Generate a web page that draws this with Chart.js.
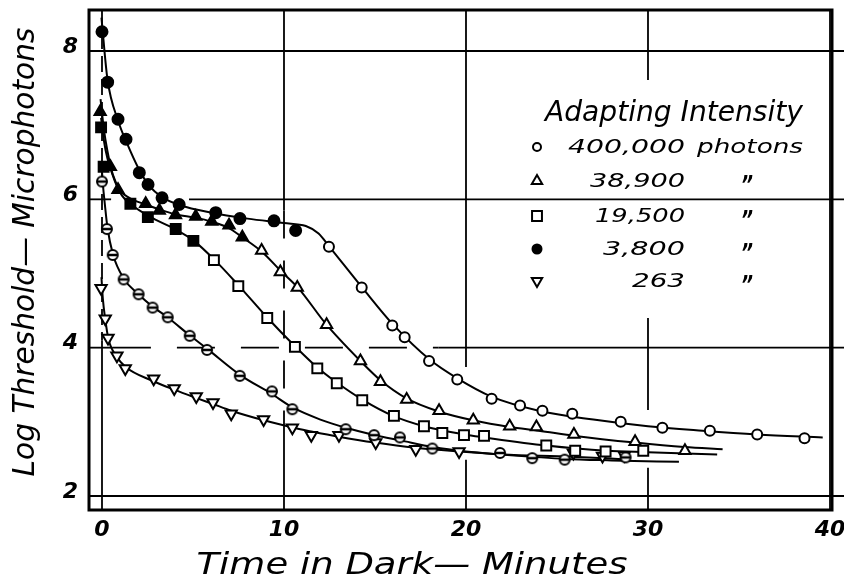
<!DOCTYPE html>
<html>
<head>
<meta charset="utf-8">
<script src="https://cdn.jsdelivr.net/npm/chart.js@4.4.1/dist/chart.umd.min.js"></script>
<style>
  html, body { margin: 0; padding: 0; background: #fff; }
  #wrap { width: 844px; height: 578px; }
</style>
</head>
<body>
<div id="wrap"><canvas id="myChart" width="844" height="578"></canvas></div>
<script>
// axis ticks
const xTicks = [0, 10, 20, 30, 40];
const yTicks = [2, 4, 6, 8];
const intensities = ["400,000", "38,900", "19,500", "3,800", "263"];

// measured points: minutes in dark / log threshold
// 400,000 photons
const tA = [0, 0.31, 0.88, 1.32, 2.05, 2.53, 3.3, 4.24, 6.25, 7.58, 9.45, 10.64, 12.47, 14.27, 15.95, 16.63, 17.97, 19.52, 21.41, 22.97, 24.2, 25.84, 28.5, 30.79, 33.4, 36.0, 38.6];
const vA = [8.26, 7.58, 7.08, 6.81, 6.36, 6.2, 6.02, 5.93, 5.82, 5.74, 5.71, 5.58, 5.36, 4.81, 4.3, 4.14, 3.82, 3.57, 3.31, 3.22, 3.15, 3.11, 3.0, 2.92, 2.88, 2.83, 2.78];
// 38,900
const tB = [-0.1, 0.46, 0.88, 2.4, 3.15, 4.04, 5.15, 6.03, 6.98, 7.71, 8.77, 9.8, 10.73, 12.34, 14.2, 15.3, 16.74, 18.52, 20.4, 22.4, 23.87, 25.93, 29.29, 32.03];
const vB = [7.18, 6.44, 6.13, 5.94, 5.85, 5.79, 5.77, 5.7, 5.65, 5.49, 5.31, 5.02, 4.81, 4.31, 3.82, 3.54, 3.3, 3.15, 3.02, 2.94, 2.93, 2.83, 2.73, 2.61];
// 19,500
const tC = [-0.05, 0.09, 1.56, 2.52, 4.05, 5.02, 6.15, 7.49, 9.08, 10.6, 11.83, 12.9, 14.3, 16.04, 17.69, 18.7, 19.89, 20.99, 24.41, 26.0, 27.67, 29.74];
const vC = [6.97, 6.44, 5.94, 5.76, 5.6, 5.44, 5.18, 4.83, 4.4, 4.01, 3.72, 3.52, 3.29, 3.08, 2.94, 2.85, 2.82, 2.81, 2.68, 2.61, 2.6, 2.61];
// 3,800
const tD = [0, 0.27, 0.59, 1.19, 2.01, 2.78, 3.61, 4.82, 5.77, 7.57, 9.34, 10.46, 13.39, 14.95, 16.37, 18.15, 21.87, 23.64, 25.42, 28.77];
const vD = [6.24, 5.6, 5.25, 4.92, 4.72, 4.54, 4.41, 4.16, 3.97, 3.62, 3.41, 3.17, 2.9, 2.82, 2.79, 2.64, 2.58, 2.51, 2.49, 2.52];
// 263
const tE = [-0.05, 0.18, 0.33, 0.82, 1.28, 2.84, 3.97, 5.18, 6.1, 7.1, 8.88, 10.46, 11.5, 13.02, 15.04, 17.24, 19.62, 25.9, 27.5, 28.7];
const vE = [4.8, 4.39, 4.13, 3.89, 3.72, 3.58, 3.45, 3.34, 3.26, 3.11, 3.03, 2.92, 2.82, 2.82, 2.72, 2.63, 2.6, 2.58, 2.54, 2.55];

// drawn curves
const ctA = [-0.03, 0.3, 0.9, 1.4, 2.0, 2.6, 3.3, 4.3, 6.0, 8.0, 10.0, 11.2, 11.9, 12.5, 14.3, 16.0, 18.0, 19.5, 21.4, 24, 27, 30, 33, 36, 39.6];
const cvA = [8.45, 7.62, 7.05, 6.74, 6.42, 6.18, 6.03, 5.92, 5.82, 5.74, 5.68, 5.64, 5.54, 5.36, 4.81, 4.31, 3.84, 3.59, 3.34, 3.15, 3.03, 2.94, 2.88, 2.83, 2.79];
const ctB = [-0.08, 0.1, 0.3, 0.6, 1.0, 1.5, 2.4, 3.2, 4.0, 5.2, 6.0, 7.0, 7.7, 8.8, 9.8, 10.8, 12.3, 14.2, 15.3, 16.7, 18.5, 20.4, 22.4, 24, 26, 29.3, 32, 34.1];
const cvB = [7.35, 6.95, 6.65, 6.33, 6.12, 6.02, 5.93, 5.86, 5.8, 5.75, 5.7, 5.61, 5.49, 5.29, 5.04, 4.8, 4.32, 3.82, 3.56, 3.32, 3.14, 3.02, 2.93, 2.88, 2.81, 2.72, 2.66, 2.63];
const ctC = [-0.05, 0.1, 0.3, 0.7, 1.1, 1.6, 2.6, 4.0, 5.0, 6.2, 7.5, 9.1, 10.6, 11.8, 12.9, 14.3, 16.0, 17.7, 19.9, 21.0, 24.4, 27.7, 30.0, 33.8];
const cvC = [7.1, 6.8, 6.55, 6.25, 6.05, 5.93, 5.77, 5.6, 5.45, 5.18, 4.84, 4.4, 4.02, 3.74, 3.53, 3.3, 3.08, 2.94, 2.83, 2.79, 2.68, 2.61, 2.59, 2.56];
const ctD = [-0.02, 0.05, 0.15, 0.3, 0.6, 1.2, 2.0, 2.8, 3.6, 4.8, 5.8, 7.6, 9.3, 10.5, 12.0, 13.4, 15.0, 16.4, 18.2, 20.0, 21.9, 23.6, 25.4, 28.0, 31.7];
const cvD = [6.45, 6.2, 5.95, 5.62, 5.26, 4.93, 4.72, 4.55, 4.41, 4.17, 3.98, 3.63, 3.38, 3.19, 3.03, 2.92, 2.82, 2.75, 2.66, 2.6, 2.56, 2.53, 2.5, 2.48, 2.46];
const ctE = [-0.03, 0.05, 0.18, 0.35, 0.8, 1.3, 2.8, 4.0, 5.2, 6.1, 7.1, 8.9, 10.5, 11.5, 13.0, 15.0, 17.2, 19.6, 22.0, 25.8, 29.0];
const cvE = [4.95, 4.65, 4.38, 4.12, 3.88, 3.74, 3.55, 3.43, 3.32, 3.24, 3.15, 3.02, 2.92, 2.87, 2.8, 2.72, 2.65, 2.6, 2.56, 2.53, 2.49];

// how many of the first marks are drawn solid
const solidA = 12, solidB = 10, solidC = 6;

const FONT = "'DejaVu Sans', sans-serif";

function pts(t, v) {
  return t.map(function (x, i) { return { x: x, y: v[i] }; });
}
function solid(n, len) {
  var a = [];
  for (var i = 0; i < len; i++) a.push(i < n ? "#000" : "#fff");
  return a;
}

// circle with a bar through it
function barCircle() {
  var c = document.createElement("canvas");
  c.width = 14; c.height = 14;
  var g = c.getContext("2d");
  g.strokeStyle = "#000"; g.fillStyle = "#fff"; g.lineWidth = 2;
  g.beginPath(); g.arc(7, 7, 5, 0, Math.PI * 2); g.fill(); g.stroke();
  g.lineWidth = 2.5;
  g.beginPath(); g.moveTo(2, 7); g.lineTo(12, 7); g.stroke();
  return c;
}
const barMark = barCircle();

function curve(t, v) {
  return {
    data: pts(t, v), showLine: true, borderColor: "#000", borderWidth: 2,
    pointRadius: 0, cubicInterpolationMode: "monotone", fill: false, order: 2
  };
}
function marks(t, v, style) {
  return Object.assign({
    data: pts(t, v), showLine: false, pointBorderColor: "#000",
    pointBorderWidth: 2, order: 1
  }, style);
}

// stretch text to a given width (the lettering is wide)
function wideText(ctx, text, x, y, w, font, align) {
  ctx.save();
  ctx.font = font;
  var k = w / ctx.measureText(text).width;
  ctx.translate(x, y);
  ctx.scale(k, 1);
  ctx.textAlign = align;
  ctx.textBaseline = "alphabetic";
  ctx.fillText(text, 0, 0);
  ctx.restore();
}

// keep the plot box where the layout padding puts it
function fixBox(s, size) {
  if (s.isHorizontal()) s.height = size; else s.width = size;
  s.paddingLeft = 0; s.paddingRight = 0; s.paddingTop = 0; s.paddingBottom = 0;
}

const paper = {
  id: "paper",
  beforeDatasetsDraw: function (chart) {
    var ctx = chart.ctx, xs = chart.scales.x, ys = chart.scales.y, a = chart.chartArea;
    ctx.save();
    ctx.strokeStyle = "#000";
    ctx.lineWidth = 1.8;
    function v(x, y0, y1, dash) {
      var px = xs.getPixelForValue(x);
      ctx.setLineDash(dash || []);
      ctx.beginPath();
      ctx.moveTo(px, ys.getPixelForValue(y0));
      ctx.lineTo(px, ys.getPixelForValue(y1));
      ctx.stroke();
    }
    function h(y, x0, x1, dash) {
      var py = ys.getPixelForValue(y);
      ctx.setLineDash(dash || []);
      ctx.beginPath();
      ctx.moveTo(xs.getPixelForValue(x0), py);
      ctx.lineTo(xs.getPixelForValue(x1), py);
      ctx.stroke();
    }
    var top = ys.max, bot = ys.min, lft = xs.min, edge = xs.max + 0.7;
    v(0, top, 4.1, [16, 7]); v(0, 4.1, bot);
    v(10, top, 5.85); v(10, 5.85, 2.85, [28, 22]); v(10, 2.85, bot);
    v(20, top, 3.74); v(20, 2.49, bot);
    v(30, top, 7.61); v(30, 4.4, 3.16); v(30, 2.38, bot);
    v(40, top, bot);
    h(8, lft, edge);
    h(6, lft, 0.5); h(6, 4.78, edge);
    h(4, 0.6, 18.5, [38, 26]); h(4, lft, 0.6); h(4, 18.5, edge);
    h(2, lft, edge);
    ctx.setLineDash([]);
    ctx.lineWidth = 3;
    ctx.strokeRect(a.left, a.top, a.right - a.left, a.bottom - a.top);
    ctx.restore();
  },
  afterDraw: function (chart) {
    var ctx = chart.ctx;
    ctx.save();
    ctx.fillStyle = "#000";
    wideText(ctx, "Time in Dark\u2014 Minutes", 412, 574, 431, "italic 30px " + FONT, "center");
    ctx.save();
    ctx.translate(34, 252);
    ctx.rotate(-Math.PI / 2);
    wideText(ctx, "Log Threshold\u2014 Microphotons", 0, 0, 449, "italic 30px " + FONT, "center");
    ctx.restore();

    // legend
    wideText(ctx, "Adapting Intensity", 545, 121, 258, "italic 29px " + FONT, "left");
    var rowsY = [153, 187, 222, 255, 287];
    var widths = [117, 95, 90, 82, 53];
    var symbols = [
      { pointStyle: "circle", radius: 4 },
      { pointStyle: "triangle", radius: 6 },
      { pointStyle: "rect", radius: 7 },
      { pointStyle: "circle", radius: 4.5, solid: true },
      { pointStyle: "triangle", radius: 6, rotation: 180 }
    ];
    for (var i = 0; i < intensities.length; i++) {
      var s = symbols[i];
      ctx.save();
      ctx.lineWidth = 2;
      ctx.strokeStyle = "#000";
      ctx.fillStyle = s.solid ? "#000" : "#fff";
      Chart.helpers.drawPoint(ctx, { pointStyle: s.pointStyle, radius: s.radius, rotation: s.rotation || 0, borderWidth: 2 }, 537, rowsY[i] - 6);
      ctx.restore();
      wideText(ctx, intensities[i], 685, rowsY[i], widths[i], "italic 20px " + FONT, "right");
      if (i === 0) {
        wideText(ctx, "photons", 697, rowsY[i], 106, "italic 20px " + FONT, "left");
      } else {
        wideText(ctx, "\u201D", 747, rowsY[i] + 6, 12, "bold italic 24px " + FONT, "center");
      }
    }
    ctx.restore();
  }
};

const tickFont = { family: FONT, size: 22, style: "italic", weight: "bold" };

new Chart(document.getElementById("myChart"), {
  type: "scatter",
  data: {
    datasets: [
      marks(tA, vA, { pointStyle: "circle", pointRadius: tA.map(function (_, i) { return i < solidA ? 5.5 : 5; }), pointBackgroundColor: solid(solidA, tA.length) }),
      marks(tB, vB, { pointStyle: "triangle", pointRadius: 6.5, pointBackgroundColor: solid(solidB, tB.length) }),
      marks(tC, vC, { pointStyle: "rect", pointRadius: 7, pointBackgroundColor: solid(solidC, tC.length) }),
      marks(tD, vD, { pointStyle: barMark, pointRadius: 6 }),
      marks(tE, vE, { pointStyle: "triangle", pointRotation: 180, pointRadius: 6.5, pointBackgroundColor: "#fff" }),
      curve(ctA, cvA),
      curve(ctB, cvB),
      curve(ctC, cvC),
      curve(ctD, cvD),
      curve(ctE, cvE)
    ]
  },
  options: {
    responsive: false,
    animation: false,
    events: [],
    layout: { padding: { top: 10, right: 12 } },
    plugins: { legend: { display: false }, tooltip: { enabled: false } },
    scales: {
      x: {
        type: "linear", min: -0.714, max: 40.11,
        grid: { display: false, drawTicks: false },
        border: { display: false },
        afterBuildTicks: function (s) { s.ticks = xTicks.map(function (v) { return { value: v }; }); },
        afterFit: function (s) { fixBox(s, 68); },
        ticks: { padding: 7, color: "#000", font: tickFont, maxRotation: 0, autoSkip: false }
      },
      y: {
        type: "linear", min: 1.811, max: 8.553,
        grid: { display: false, drawTicks: false },
        border: { display: false },
        afterBuildTicks: function (s) { s.ticks = yTicks.map(function (v) { return { value: v }; }); },
        afterFit: function (s) { fixBox(s, 89); },
        ticks: { padding: 11, labelOffset: -4, color: "#000", font: tickFont, autoSkip: false }
      }
    }
  },
  plugins: [paper]
});
</script>
</body>
</html>
